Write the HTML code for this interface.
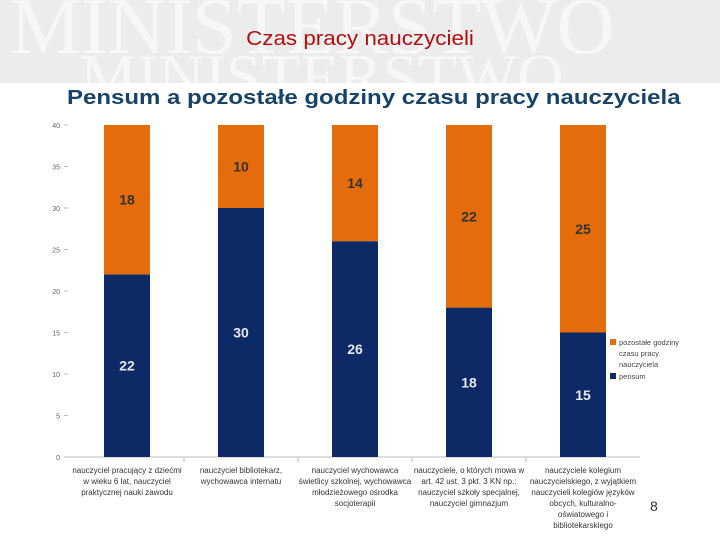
<!DOCTYPE html>
<html><head><meta charset="utf-8"><style>
body{margin:0;width:720px;height:540px;background:#fff;font-family:"Liberation Sans",sans-serif;overflow:hidden;position:relative}
#hdr{position:absolute;left:0;top:0;width:720px;height:83px;background:#ececec;overflow:hidden}
.wm{position:absolute;font-family:"Liberation Serif",serif;color:#f7f7f7;white-space:nowrap}
#t1{position:absolute;top:28px;width:720px;text-align:center;color:#b01010;font-size:20px;transform:scaleX(1.12)}
#t2{position:absolute;top:87px;left:67px;color:#17436a;font-size:20px;font-weight:bold;transform-origin:left top;transform:scaleX(1.2)}
#pg{position:absolute;left:650px;top:498px;font-size:14px;color:#333}
</style></head><body>
<div id="hdr">
<div class="wm" style="left:10px;top:-18px;font-size:80px">MINISTERSTWO</div>
<div class="wm" style="left:80px;top:40px;font-size:64px">MINISTERSTWO</div>
</div>
<div id="t1">Czas pracy nauczycieli</div>
<div id="t2">Pensum a pozostałe godziny czasu pracy nauczyciela</div>
<svg id="c" width="720" height="540" style="position:absolute;left:0;top:0"></svg>
<div id="pg">8</div>
<script>
const categories=[["nauczyciel pracujący z dziećmi","w wieku 6 lat, nauczyciel","praktycznej nauki zawodu"],["nauczyciel bibliotekarz,","wychowawca internatu"],["nauczyciel wychowawca","świetlicy szkolnej, wychowawca","młodzieżowego ośrodka","socjoterapii"],["nauczyciele, o których mowa w","art. 42 ust. 3 pkt. 3 KN np.:","nauczyciel szkoły specjalnej,","nauczyciel gimnazjum"],["nauczyciele kolegium","nauczycielskiego, z wyjątkiem","nauczycieli kolegiów języków","obcych, kulturalno-","oświatowego i","bibliotekarskiego"]];
const pensum=[22,30,26,18,15];
const other=[18,10,14,22,25];
const ticks=[0,5,10,15,20,25,30,35,40];
const NS="http://www.w3.org/2000/svg",svg=document.getElementById('c');
const x0=70,x1=640,yB=457,yT=125,maxV=40,n=categories.length,bw=(x1-x0)/n;
const y=v=>yB-(v/maxV)*(yB-yT);
const cx=i=>x0+bw*(i+0.5);
function mk(t,a,p){const e=document.createElementNS(NS,t);for(const k in a)e.setAttribute(k,a[k]);(p||svg).appendChild(e);return e}
ticks.forEach(t=>{
const l=mk('text',{x:60,y:y(t)+3,'text-anchor':'end','font-size':7,fill:'#666'});l.textContent=t;


mk('line',{x1:64,x2:68,y1:y(t),y2:y(t),stroke:'#bbb'});
});
mk('line',{x1:64,x2:x1,y1:yB,y2:yB,stroke:'#bbb'});
for(let i=1;i<n;i++)mk('line',{x1:x0+bw*i,x2:x0+bw*i,y1:yB,y2:yB+5,stroke:'#bbb'});
const w=46;
pensum.forEach((p,i)=>{
const o=other[i];
const r1=mk('rect',{x:cx(i)-w/2,y:y(p),width:w,height:yB-y(p),fill:'#0d2a66'});


const r2=mk('rect',{x:cx(i)-w/2,y:y(p+o),width:w,height:y(p)-y(p+o),fill:'#e46c0a'});


const l1=mk('text',{x:cx(i),y:(y(p)+yB)/2+5,'text-anchor':'middle','font-size':14,'font-weight':'bold',fill:'#e8e8f0'});l1.textContent=p;


const l2=mk('text',{x:cx(i),y:(y(p)+y(p+o))/2+5,'text-anchor':'middle','font-size':14,'font-weight':'bold',fill:'#333'});l2.textContent=o;


categories[i].forEach((s,j)=>{const t=mk('text',{x:cx(i),y:473+j*11,'text-anchor':'middle','font-size':8,fill:'#333'});t.textContent=s;

});
});
const lg=mk('g',{});


mk('rect',{x:610,y:339,width:6,height:6,fill:'#e46c0a'},lg);
[["pozostałe godziny",345],["czasu pracy",356],["nauczyciela",367]].forEach(a=>{const t=mk('text',{x:619,y:a[1],'font-size':7.5,fill:'#444'},lg);t.textContent=a[0];});
mk('rect',{x:610,y:373,width:6,height:6,fill:'#0d2a66'},lg);
const pt=mk('text',{x:619,y:379,'font-size':7.5,fill:'#444'},lg);pt.textContent='pensum';
</script>
</body></html>
